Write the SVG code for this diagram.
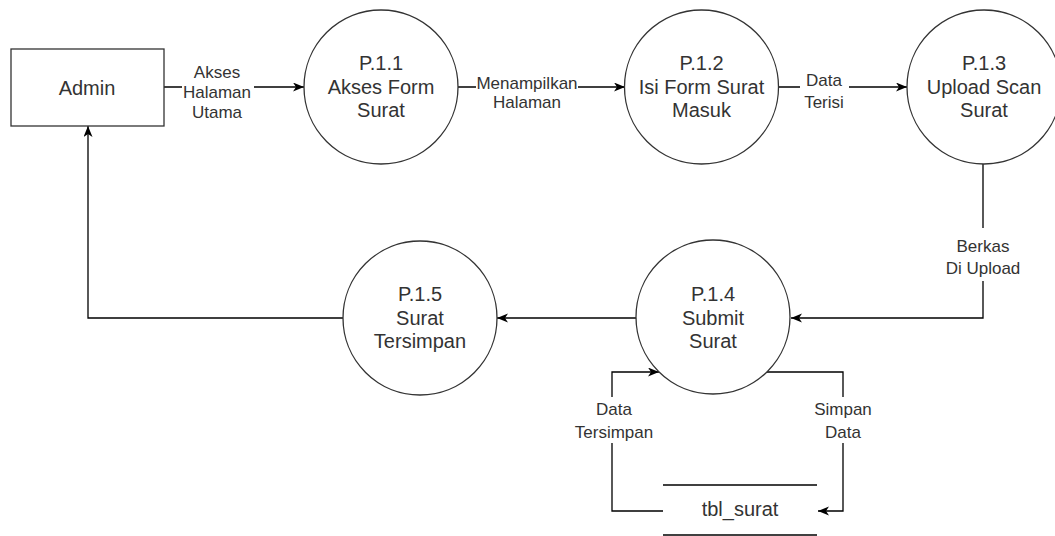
<svg xmlns="http://www.w3.org/2000/svg" width="1055" height="536" viewBox="0 0 1055 536">
<defs>
<style>
.node{fill:#fff;stroke:#333;stroke-width:1.3}
.nt{font-family:"Liberation Sans",Arial,sans-serif;font-size:20px;fill:#333;text-anchor:middle}
.et{font-family:"Liberation Sans",Arial,sans-serif;font-size:17px;fill:#333;text-anchor:middle}
.edge{fill:none;stroke:#000;stroke-width:1.3}
.bg{fill:#fff;stroke:none}
</style>
<marker id="arr" markerUnits="userSpaceOnUse" markerWidth="12" markerHeight="10" refX="11" refY="4.5" orient="auto">
<path d="M0,0 L11,4.5 L0,9 L3,4.5 z" fill="#000"/>
</marker>
</defs>
<rect width="1055" height="536" fill="#fff"/>
<g id="connectors">
<path class="edge" d="M164,87 H304" marker-end="url(#arr)"/>
<path class="edge" d="M458,87 H625" marker-end="url(#arr)"/>
<path class="edge" d="M778,87 H907" marker-end="url(#arr)"/>
<path class="edge" d="M983,164 V318 H791" marker-end="url(#arr)"/>
<path class="edge" d="M637,318 H497" marker-end="url(#arr)"/>
<path class="edge" d="M343,318 H88 V126" marker-end="url(#arr)"/>
<path class="edge" d="M767,372 H843 V511 H818" marker-end="url(#arr)"/>
<path class="edge" d="M663,511 H612 V372 H659" marker-end="url(#arr)"/>
<rect class="bg" x="182" y="64" width="72" height="58"/>
<text class="et" x="217" y="78">Akses</text>
<text class="et" x="217" y="98">Halaman</text>
<text class="et" x="217" y="118">Utama</text>
<rect class="bg" x="476" y="75" width="102" height="37"/>
<text class="et" x="527" y="89">Menampilkan</text>
<text class="et" x="527" y="108">Halaman</text>
<rect class="bg" x="800" y="72" width="49" height="40"/>
<text class="et" x="824" y="86">Data</text>
<text class="et" x="824" y="108">Terisi</text>
<rect class="bg" x="941" y="228" width="84" height="53"/>
<text class="et" x="983" y="252">Berkas</text>
<text class="et" x="983" y="274">Di Upload</text>
<rect class="bg" x="571" y="397" width="87" height="46"/>
<text class="et" x="614" y="415">Data</text>
<text class="et" x="614" y="438">Tersimpan</text>
<rect class="bg" x="814" y="397" width="58" height="46"/>
<text class="et" x="843" y="415">Simpan</text>
<text class="et" x="843" y="438">Data</text>
</g>
<g id="admin">
<rect class="node" x="11" y="49" width="153" height="77"/>
<text class="nt" x="87" y="95">Admin</text>
</g>
<g id="p11">
<circle class="node" cx="381" cy="87" r="77"/>
<text class="nt" x="381" y="70">P.1.1</text>
<text class="nt" x="381" y="94">Akses Form</text>
<text class="nt" x="381" y="117">Surat</text>
</g>
<g id="p12">
<circle class="node" cx="701.5" cy="87" r="77"/>
<text class="nt" x="701.5" y="70">P.1.2</text>
<text class="nt" x="701.5" y="94">Isi Form Surat</text>
<text class="nt" x="701.5" y="117">Masuk</text>
</g>
<g id="p13">
<circle class="node" cx="984" cy="87" r="77"/>
<text class="nt" x="984" y="70">P.1.3</text>
<text class="nt" x="984" y="94">Upload Scan</text>
<text class="nt" x="984" y="117">Surat</text>
</g>
<g id="p14">
<circle class="node" cx="713" cy="317" r="77"/>
<text class="nt" x="713" y="301">P.1.4</text>
<text class="nt" x="713" y="325">Submit</text>
<text class="nt" x="713" y="348">Surat</text>
</g>
<g id="p15">
<circle class="node" cx="420" cy="318" r="77"/>
<text class="nt" x="420" y="301">P.1.5</text>
<text class="nt" x="420" y="325">Surat</text>
<text class="nt" x="420" y="348">Tersimpan</text>
</g>
<g id="tbl_surat">
<line x1="663" y1="485" x2="817" y2="485" stroke="#000" stroke-width="1.3"/>
<line x1="663" y1="535" x2="817" y2="535" stroke="#000" stroke-width="1.3"/>
<text class="nt" x="740" y="516">tbl_surat</text>
</g>
</svg>
